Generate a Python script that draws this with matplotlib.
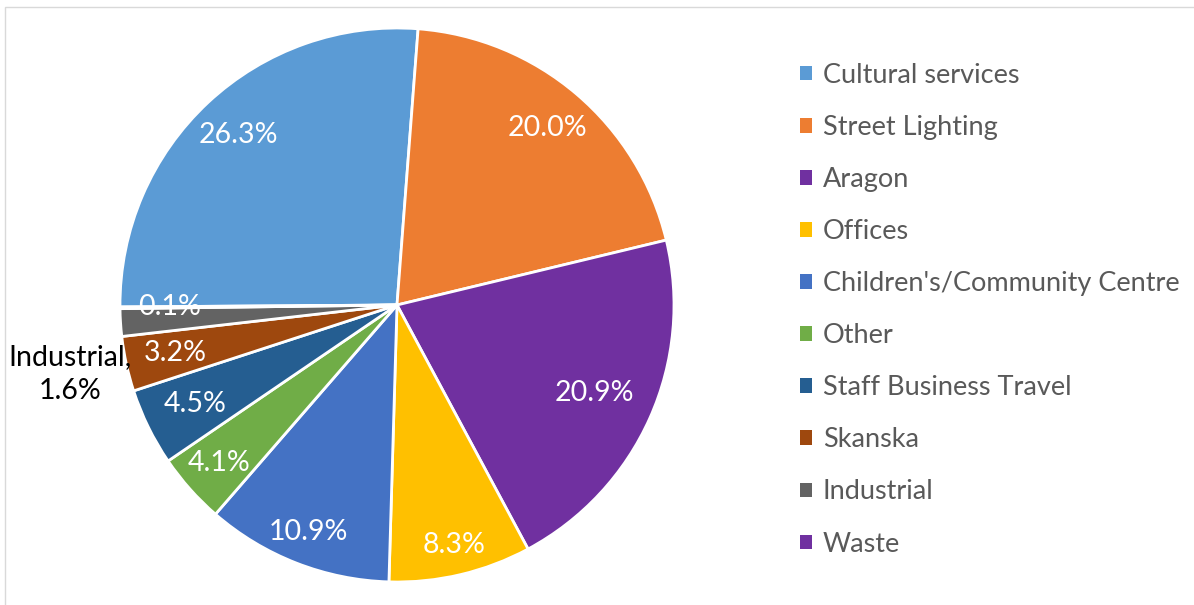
import numpy as np
import matplotlib.pyplot as plt
from matplotlib.patches import Rectangle

# data
categories = ['Cultural services', 'Street Lighting', 'Aragon', 'Offices',
              "Children's/Community Centre", 'Other', 'Staff Business Travel',
              'Skanska', 'Industrial', 'Waste']
shares = [26.3, 20.0, 20.9, 8.3, 10.9, 4.1, 4.5, 3.2, 1.6, 0.1]
colors = ['#5B9BD5', '#ED7D31', '#7030A0', '#FFC000', '#4472C4',
          '#70AD47', '#255E91', '#9E480E', '#636363', '#7030A0']

plt.rcParams['font.family'] = ['Lato', 'DejaVu Sans']

W, H = 1194, 605
fig = plt.figure(figsize=(W / 100, H / 100), dpi=100)

# pie axes placed in pixel terms: centre (397, 305), radius 277
cx, cy, r = 397, 305, 277
ax = fig.add_axes([(cx - r) / W, (H - cy - r) / H, 2 * r / W, 2 * r / H])

wedges, _ = ax.pie(shares, colors=colors, startangle=180.4, counterclock=False,
                   wedgeprops=dict(edgecolor='white', linewidth=2))
ax.set_xlim(-1, 1)
ax.set_ylim(-1, 1)
ax.set_aspect('equal')

# label distances (Excel best-fit style)
label_r = [0.84, 0.84, 0.78, 0.89, 0.88, 0.86, 0.81, 0.82, None, 0.82]
for w, val, lr in zip(wedges, shares, label_r):
    if lr is None:
        continue
    ang = np.deg2rad((w.theta1 + w.theta2) / 2)
    ax.text(lr * np.cos(ang), lr * np.sin(ang), f'{val:.1f}%',
            ha='center', va='center', color='white', fontsize=20.5)

ax.text(-1.18, -0.25, 'Industrial,\n1.6%', ha='center', va='center',
        color='black', fontsize=20.5, linespacing=1.38, clip_on=False)

# legend
leg = fig.legend(wedges, categories, loc='upper left',
                 bbox_to_anchor=(789 / W, 1 - 52 / H), frameon=False,
                 fontsize=19.5, labelcolor='#595959', handlelength=0.45,
                 handleheight=0.45, handletextpad=0.4, labelspacing=1.0,
                 borderaxespad=0)
for h in leg.legend_handles:
    h.set_edgecolor('none')

# chart area border
fig.add_artist(Rectangle((5 / W, -0.01), 1.2, 1 - 7 / H + 0.01,
                         transform=fig.transFigure, fill=False,
                         edgecolor='#d9d9d9', linewidth=1))

fig.savefig('out.png', dpi=100)
